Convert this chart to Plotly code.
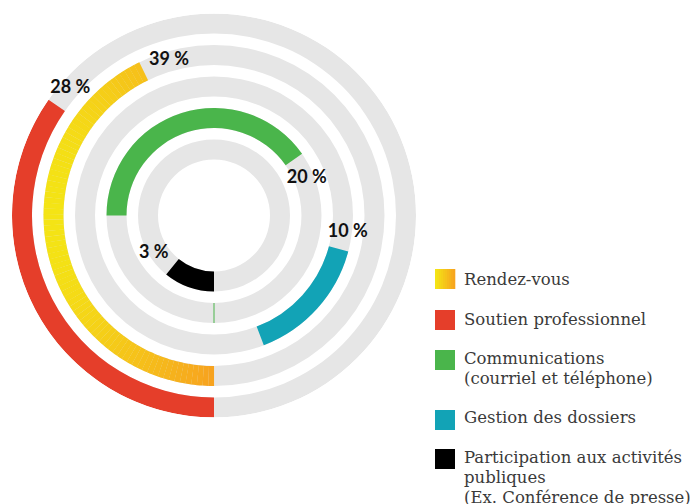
import plotly.graph_objects as go
import math

# ---------------- data ----------------
categories = ["Soutien professionnel", "Rendez-vous", "Gestion des dossiers",
              "Communications (courriel et téléphone)",
              "Participation aux activités publiques (Ex. Conférence de presse)"]
percent_values = [28, 39, 10, 20, 3]
percent_labels = ["28 %", "39 %", "10 %", "20 %", "3 %"]
# arcs as drawn in the infographic (degrees, clockwise from top)
arc_start_deg = [180, 180, 105, 270, 180]
arc_span_deg = [125, 154, 54, 145, 39]

legend_lines = [["Rendez-vous"], ["Soutien professionnel"],
                ["Communications", "(courriel et téléphone)"],
                ["Gestion des dossiers"],
                ["Participation aux activités", "publiques", "(Ex. Conférence de presse)"]]

# ---------------- styles ----------------
W, H = 696, 504
CX, CY, R_OUT = 214, 215.5, 202
ring_outer = [202, 170.5, 139, 107.5, 76]
THICK = 20
GRAY = "#e6e6e6"
colors = ["#e53e2a", None, "#12a3b6", "#4ab54b", "#000000"]
Y0, Y1 = (244, 232, 20), (247, 162, 31)  # gradient yellow -> orange


def grad_color(t):
    t = max(0.0, min(1.0, t))
    c = [round(a + (b - a) * t) for a, b in zip(Y0, Y1)]
    return "rgb(%d,%d,%d)" % tuple(c)


fig = go.Figure()

# gray background rings
for ro in ring_outer:
    fig.add_trace(go.Barpolar(theta=[90, 270], width=[180, 180], base=[ro - THICK] * 2,
                              r=[THICK, THICK], marker=dict(color=GRAY, line=dict(width=0)),
                              hoverinfo="skip"))

for i, ro in enumerate(ring_outer):
    base = ro - THICK
    s, sp = arc_start_deg[i], arc_span_deg[i]
    if colors[i] is None:
        n = 80
        step = sp / n
        thetas = [s + step * (k + 0.5) for k in range(n)]
        cols = []
        for th in thetas:
            x = CX + (base + THICK / 2) * math.sin(math.radians(th))
            cols.append(grad_color((x - 43) / (214 - 43)))
        fig.add_trace(go.Barpolar(theta=thetas, width=[step * 1.02] * n, base=[base] * n,
                                  r=[THICK] * n, marker=dict(color=cols, line=dict(width=0)),
                                  name=categories[i]))
    else:
        fig.add_trace(go.Barpolar(theta=[s + sp / 2], width=[sp], base=[base], r=[THICK],
                                  marker=dict(color=colors[i], line=dict(width=0)),
                                  name=categories[i]))

# thin green tick on the communications ring
fig.add_trace(go.Scatterpolar(r=[ring_outer[3] - THICK, ring_outer[3]], theta=[180, 180],
                              mode="lines", line=dict(color="#4ab54b", width=1),
                              hoverinfo="skip"))

# percentage labels
label_theta = [311.5, 343.8, 97.4, 68, 238]
label_r = [192, 161, 135, 100, 71]
fig.add_trace(go.Scatterpolar(r=label_r, theta=label_theta, mode="text",
                              text=percent_labels,
                              textfont=dict(family="Lato", size=18, color="#111111",
                                            weight="bold"),
                              hoverinfo="skip"))

fig.update_layout(
    width=W, height=H, margin=dict(l=0, r=0, t=0, b=0),
    paper_bgcolor="white", plot_bgcolor="white", showlegend=False,
    polar=dict(
        domain=dict(x=[(CX - R_OUT) / W, (CX + R_OUT) / W],
                    y=[(H - (CY + R_OUT)) / H, (H - (CY - R_OUT)) / H]),
        bgcolor="white",
        radialaxis=dict(range=[0, R_OUT], visible=False),
        angularaxis=dict(visible=False, direction="clockwise", rotation=90),
    ),
)

# manual legend
sw_tops = [269, 310, 350, 410, 449]
line_y = [[279], [319], [358, 378], [417], [457, 477, 497]]
sw_colors = [None, colors[0], colors[3], colors[2], colors[4]]
shapes = []
annotations = []
for k, top in enumerate(sw_tops):
    if sw_colors[k] is None:
        n = 10
        for j in range(n):
            x0 = 435 + 20 * j / n
            x1 = 435 + 20 * (j + 1) / n + 0.3
            shapes.append(dict(type="rect", xref="paper", yref="paper",
                               x0=x0 / W, x1=x1 / W, y0=1 - (top + 20) / H, y1=1 - top / H,
                               fillcolor=grad_color((j + 0.5) / n), line=dict(width=0)))
    else:
        shapes.append(dict(type="rect", xref="paper", yref="paper",
                           x0=435 / W, x1=455 / W, y0=1 - (top + 20) / H, y1=1 - top / H,
                           fillcolor=sw_colors[k], line=dict(width=0)))
    for txt, yy in zip(legend_lines[k], line_y[k]):
        annotations.append(dict(text=txt, xref="paper", yref="paper", x=462 / W, y=1 - yy / H,
                                xanchor="left", yanchor="middle", showarrow=False,
                                font=dict(family="DejaVu Serif", size=16.5, color="#3a3a3a")))
fig.update_layout(shapes=shapes, annotations=annotations)

fig.write_html("out.html", config={"displayModeBar": False, "staticPlot": True},
               post_script="document.body.style.margin='0';document.body.style.overflow='hidden';")
